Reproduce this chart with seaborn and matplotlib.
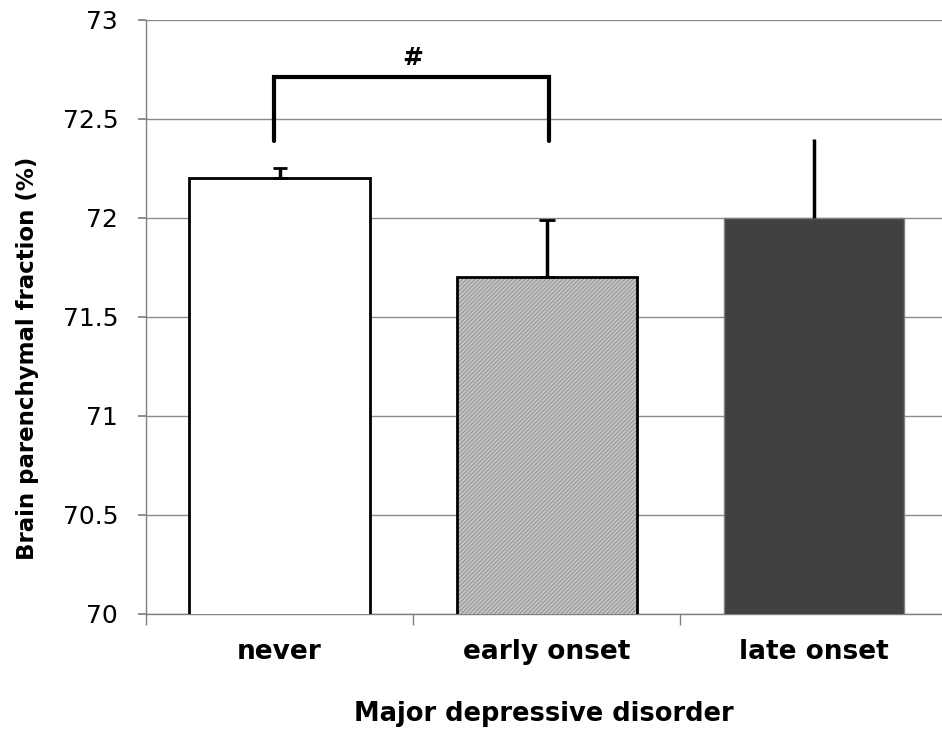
import matplotlib
matplotlib.use("Agg")
import matplotlib.pyplot as plt
import seaborn as sns
import pandas as pd
from matplotlib.patches import Rectangle

categories = ["never", "early onset", "late onset"]
values = [72.2, 71.7, 72.0]
errors = [0.05, 0.29, 0.40]
yticks = [70, 70.5, 71, 71.5, 72, 72.5, 73]
bracket_y = 72.71
bracket_low = 72.39
bracket_label = "#"

sns.set_theme(style="white")
plt.rcParams['font.family'] = ['DejaVu Sans']
plt.rcParams['hatch.linewidth'] = 0.6
plt.rcParams['text.color'] = 'black'
plt.rcParams['axes.labelcolor'] = 'black'
plt.rcParams['xtick.color'] = 'black'
plt.rcParams['ytick.color'] = 'black'

df = pd.DataFrame({"group": categories, "bpf": values})

fig = plt.figure(figsize=(9.42, 7.34), dpi=100)
ax = fig.add_axes([0.155, 0.1635, 0.845, 0.8093])

sns.barplot(data=df, x="group", y="bpf", order=categories, ax=ax,
            width=0.675, errorbar=None, zorder=3,
            palette=["white", "#c4c4c4", "#414141"], hue="group", legend=False,
            edgecolor="black", linewidth=2, saturation=1)

patches = ax.patches
# hatched middle bar
p = patches[1]
p.set_hatch("////////")
p.set_edgecolor("#8a8a8a")
p.set_linewidth(0)
ax.add_patch(Rectangle((p.get_x(), p.get_y()), p.get_width(), p.get_height(),
                       fill=False, edgecolor="black", linewidth=2, zorder=4))
patches[2].set_edgecolor("#808080")
patches[2].set_linewidth(1)

caps = [5, 6, 0]
for i, (v, e) in enumerate(zip(values, errors)):
    ax.errorbar([i], [v], yerr=[[0], [e]], fmt="none", ecolor="black",
                elinewidth=2.5, capsize=caps[i], capthick=2, zorder=5)

ax.set_ylim(70, 73)
ax.set_xlim(-0.5, 2.48)
ax.set_yticks(yticks)
ax.set_yticklabels([f"{t:g}" for t in yticks], fontsize=18)
ax.yaxis.grid(True, color="#8a8a8a", linewidth=1)
ax.set_axisbelow(True)
for s in ["top", "right"]:
    ax.spines[s].set_visible(False)
for s in ["left", "bottom"]:
    ax.spines[s].set_color("#808080")
    ax.spines[s].set_linewidth(1)
ax.tick_params(axis="y", which="major", length=6, color="#808080", direction="out", left=True, pad=14)
ax.tick_params(axis="x", which="major", length=0, pad=18)
ax.set_xticks([-0.5, 0.5, 1.5], minor=True)
ax.tick_params(axis="x", which="minor", length=8, color="#808080", direction="out", bottom=True)
for lab in ax.get_xticklabels():
    lab.set_fontweight("bold")
    lab.set_fontsize(19)

ax.set_xlabel("Major depressive disorder", fontsize=18.5, fontweight="bold", labelpad=26)
ax.set_ylabel("Brain parenchymal fraction (%)", fontsize=16.5, fontweight="bold")
ax.yaxis.set_label_coords(-0.135, 0.43)

# significance bracket
ax.plot([-0.02, -0.02, 1.01, 1.01], [bracket_low, bracket_y, bracket_y, bracket_low],
        color="black", linewidth=3, zorder=6, solid_joinstyle="miter")
ax.text(0.5, bracket_y + 0.035, bracket_label, ha="center", va="bottom",
        fontsize=18, fontweight="bold")

fig.savefig("out.png", dpi=100)
